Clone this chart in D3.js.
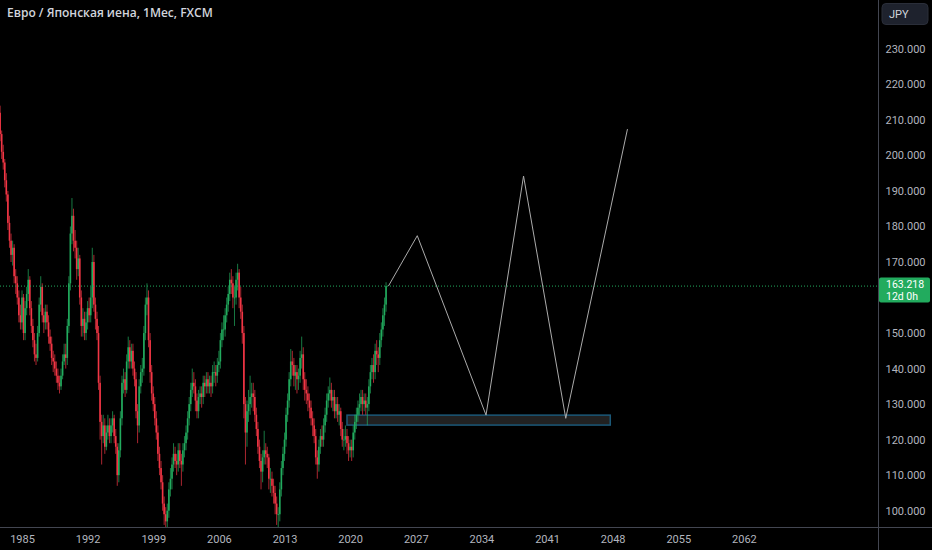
<!DOCTYPE html>
<html><head><meta charset="utf-8">
<script src="https://cdn.jsdelivr.net/npm/d3@7/dist/d3.min.js"></script>
<style>
html,body{margin:0;padding:0;background:#000;overflow:hidden}
svg{display:block}
text{font-family:Roboto,"Noto Sans",sans-serif}
</style></head>
<body><svg id="c" width="932" height="550"></svg>
<script>
// ---- data (EUR/JPY, bimonthly candles starting Sep 1982) ----
const title = "Евро / Японская иена, 1Мес, FXCM";
const firstOpen = 212;
const closes = [
206,201,198,193,189,181,176,172,174,166,
164,160,155,153,160,150,157,161,165,157,
152,148,144,143,150,158,163,155,153,156,
153,149,147,143,142,140,138,136,135,138,
142,144,143,152,164,178,183,176,174,168,
171,160,152,154,150,153,157,155,160,170,
158,154,150,136,125,121,124,118,122,124,
121,124,126,121,118,110,117,126,136,137,
134,142,146,142,145,140,137,128,124,135,
139,140,150,158,160,148,139,133,130,126,
122,116,112,108,102,99,97,100,106,109,
113,116,114,113,117,114,113,117,119,122,
126,130,134,136,135,131,128,132,133,132,
136,135,137,135,136,135,139,139,138,141,
142,148,151,151,155,158,161,165,164,160,
160,165,167,160,156,150,130,122,128,130,
132,133,132,127,123,118,114,111,115,117,
116,115,109,109,107,105,102,99,99,106,
112,116,120,127,131,137,142,141,138,139,
137,138,143,144,137,134,133,131,129,126,
124,121,115,113,118,121,120,124,127,131,
133,134,131,132,128,130,127,128,123,120,
120,121,119,117,118,117,122,125,127,129,
130,132,130,131,129,130,135,139,141,139,
145,144,143,148,151,155,158,163.218];
const highs = [
214,207,203,199,195,190,183,178,176,175,
168,166,162,158,162,161,159,163,168,166,
159,154,150,147,152,160,166,164,157,158,
158,155,151,149,145,144,142,140,138,140,
144,147,147,154,166,180,188,185,179,176,
174,172,162,157,156,156,159,160,163,174,
172,160,156,152,138,127,127,126,124,127,
126,126,128,127,123,119,119,128,138,140,
139,144,149,148,147,147,142,139,130,137,
141,143,152,160,164,162,150,141,135,132,
128,124,118,114,110,104,101,102,108,112,
115,119,118,116,119,119,116,119,121,124,
128,132,136,140,139,137,133,134,135,135,
138,138,139,139,138,138,141,142,141,143,
145,150,153,155,157,160,163,167,168,166,
163,167,169.5,168,163,158,152,132,131,134,
138,136,136,134,129,125,120,116,117,122.5,
119,118,116,112,111,109,107,104,101,108,
114,118,122,129,133,139,145.5,145,143,141,
141,140,145,149,146,139,137,135,133,131,
128,126,123,117,120,123,124,126,129,133,
135,137.5,136,134,134,132,132,130,129,125,
123,124,123,121,120,120,124,127,129,131,
133,134,134,133,133,132,137,141,143,144,
147,148,146,150,153,157,160,164.3];
const lows = [
204,199,196,191,187,179,174,170,169,164,
161,158,153,151,151,148,148,155,159,155,
150,146,142,141,142,149,156,153,150,151,
151,147,145,141,139,138,136,134,133,134,
137,141,140,141,150,162,175,173,171,165,
166,158,149,149,148,148,151,153,153,157,
156,151,148,134,120,113,119,116,117,120,
119,119,122,119,116,107,108,115,124,133,
132,133,140,140,140,138,135,126,119,122,
133,136,138,148,155,146,136,131,128,124,
120,114,110,106,100,96,89,94,98,104,
106,111,112,110,111,112,107,111,115,117,
120,124,128,132,133,128,126,126,130,129,
130,132,133,133,133,132,133,136,135,136,
139,140,146,148,149,153,156,159,161,157,
152,158,162,157,154,147,126,113,118,125,
127,129,128,125,121,116,112,106,108,113,
113,112,106,105,104,102,99,96,94,97,
104,110,114,118,125,129,135,138,135,134,
133,134,136,140,134,131,130,128,126,124,
121,119,113,109,111,116,118,118,122,125,
129,131,129,128,126,126,125,124,121,118,
117,118,116,114,115,114,115,120,123,125,
127,128,127,128,127,124,128,133,137,136,
137,141,139,141,146,149,152,156];
const startYear = 1982, startMonth = 8, monthStep = 2;
const yearTicks = [1985,1992,1999,2006,2013,2020,2027,2034,2041,2048,2055,2062];
const priceTicks = [100,110,120,130,140,150,170,180,190,200,210,220,230];
const lastPrice = 163.218;
const countdown = "12d 0h";
const currency = "JPY";
// projected path drawn on the chart: [year, month, price]
const projection = [[2024,1,163.218],[2027,2,177.4],[2034,6,126.9],[2038,6,194.2],[2043,0,126.0],[2049,7,207.4]];
// support zone: [start year, month], [end year, month], price top, price bottom
const zoneStart = [2019,8], zoneEnd = [2047,9], zoneTop = 126.9, zoneBottom = 124.1;

// ---- layout ----
const W = 932, H = 550, plotR = 878.5, plotB = 527.5;
const upColor = "#22ab5e", downColor = "#f23645";
const svg = d3.select("#c");
svg.append("rect").attr("width",W).attr("height",H).attr("fill","#000");

const x = d3.scaleTime()
  .domain([new Date(1985,0,1), new Date(2062,0,1)])
  .range([22, 743.9]);
const y = d3.scaleLinear().domain([100,230]).range([510.7, 48.8]);

svg.append("clipPath").attr("id","plot").append("rect")
  .attr("x",0).attr("y",0).attr("width",plotR).attr("height",plotB);
const g = svg.append("g").attr("clip-path","url(#plot)");

const bars = closes.map((c,i)=>({
  date: new Date(startYear, startMonth + i*monthStep, 1),
  open: i===0 ? firstOpen : closes[i-1],
  close: c, high: highs[i], low: lows[i]
}));

// zone rectangle
g.append("rect")
  .attr("x", x(new Date(zoneStart[0],zoneStart[1],1)))
  .attr("y", y(zoneTop))
  .attr("width", x(new Date(zoneEnd[0],zoneEnd[1],1)) - x(new Date(zoneStart[0],zoneStart[1],1)))
  .attr("height", y(zoneBottom) - y(zoneTop))
  .attr("fill","rgba(60,60,60,0.55)")
  .attr("stroke","#1b5878").attr("stroke-width",1.5);

// candles
const cg = g.append("g");
bars.forEach(b=>{
  const col = b.close >= b.open ? upColor : downColor;
  const cx = x(b.date);
  cg.append("rect").attr("x",cx-0.5).attr("width",1)
    .attr("y",y(b.high)).attr("height",Math.max(0.5,y(b.low)-y(b.high)))
    .attr("fill",col).attr("opacity",0.7);
  const top = y(Math.max(b.open,b.close)), bot = y(Math.min(b.open,b.close));
  cg.append("rect").attr("x",cx-0.8).attr("width",1.6)
    .attr("y",top).attr("height",Math.max(0.8,bot-top))
    .attr("fill",col);
});

// last price dotted line
g.append("line").attr("x1",0).attr("x2",plotR)
  .attr("y1",y(lastPrice)).attr("y2",y(lastPrice))
  .attr("stroke",upColor).attr("stroke-width",1).attr("stroke-dasharray","1 2");

// projection zigzag
g.append("path")
  .datum(projection)
  .attr("d", d3.line().x(d=>x(new Date(d[0],d[1],1))).y(d=>y(d[2])))
  .attr("fill","none").attr("stroke","#ababab").attr("stroke-width",1);

// axes lines
svg.append("line").attr("x1",plotR).attr("x2",plotR).attr("y1",0).attr("y2",H)
  .attr("stroke","#434651").attr("stroke-width",1);
svg.append("line").attr("x1",0).attr("x2",W).attr("y1",plotB).attr("y2",plotB)
  .attr("stroke","#434651").attr("stroke-width",1);

// y axis labels
const yAxis = d3.axisRight(y).tickValues(priceTicks).tickSize(0).tickPadding(0)
  .tickFormat(d=>d3.format(".3f")(d));
const ya = svg.append("g").attr("transform",`translate(${plotR+7},0)`).call(yAxis);
ya.select(".domain").remove();
ya.selectAll("text").attr("fill","#b2b5be").style("font-size","11px")
  .style("font-family","Roboto, 'Noto Sans', sans-serif");

// x axis labels
const xAxis = d3.axisBottom(x).tickValues(yearTicks.map(yr=>new Date(yr,0,1)))
  .tickSize(0).tickPadding(0).tickFormat(d3.timeFormat("%Y"));
const xa = svg.append("g").attr("transform",`translate(0,${plotB+7.5})`).call(xAxis);
xa.select(".domain").remove();
xa.selectAll("text").attr("fill","#b2b5be").style("font-size","11px")
  .style("font-family","Roboto, 'Noto Sans', sans-serif");

// currency button
svg.append("rect").attr("x",882).attr("y",3.5).attr("width",46).attr("height",21).attr("rx",4)
  .attr("fill","#1e222d").attr("stroke","#2a2e39");
svg.append("text").attr("x",889).attr("y",18).text(currency)
  .attr("fill","#d1d4dc").style("font-size","11px");

// last price label
svg.append("rect").attr("x",879).attr("y",277.5).attr("width",51).attr("height",25).attr("rx",2)
  .attr("fill",upColor);
svg.append("text").attr("x",886).attr("y",288).text(d3.format(".3f")(lastPrice))
  .attr("fill","#fff").style("font-size","10.5px");
svg.append("text").attr("x",886).attr("y",300).text(countdown)
  .attr("fill","#fff").style("font-size","10.5px");

// title
svg.append("text").attr("x",7).attr("y",17).text(title)
  .attr("fill","#d1d4dc").style("font-size","12px").style("font-weight","600")
  .style("font-family","'Open Sans', 'Noto Sans', sans-serif");
</script></body></html>
